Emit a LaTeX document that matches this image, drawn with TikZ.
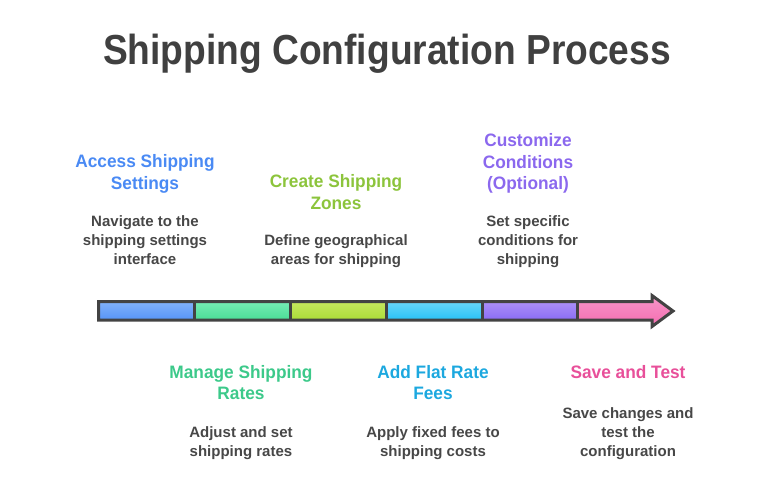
\documentclass[tikz,border=0pt]{standalone}
\usepackage{fontspec}
\setmainfont{Liberation Sans}
\newfontfamily\titlefont{Liberation Sans}[FakeStretch=0.885]
\newfontfamily\labfont{Liberation Sans}[FakeStretch=0.96]
\definecolor{ink}{HTML}{404040}
\definecolor{desc}{HTML}{474747}
\definecolor{outl}{HTML}{434343}
\definecolor{cblue}{HTML}{4A8AF4}
\definecolor{cgreen}{HTML}{8CC43C}
\definecolor{cpurple}{HTML}{8B68EE}
\definecolor{cmint}{HTML}{3CC98A}
\definecolor{ccyan}{HTML}{1CA8DF}
\definecolor{cpink}{HTML}{E8509A}
\newcommand{\ml}[1]{\begin{tabular}[t]{@{}c@{}}#1\end{tabular}}
\begin{document}
\begin{tikzpicture}[x=1pt,y=-1pt,
  lab/.style={inner sep=0pt, anchor=base, font=\labfont\bfseries\fontsize{18}{21.5}\selectfont},
  dsc/.style={inner sep=0pt, anchor=base, text=desc, font=\bfseries\fontsize{15}{19.4}\selectfont}]
\useasboundingbox (0,0) rectangle (760,495);
% title
\node[inner sep=0pt, anchor=base, text=ink, font=\titlefont\bfseries\fontsize{42}{48}\selectfont] (title) at (387,64) {Shipping Configuration Process};
% arrow body
\path[top color={rgb,255:red,249;green,150;blue,201}, bottom color={rgb,255:red,244;green,108;blue,176}]
  (98.5,301.5) -- (652,301.5) -- (652,295.5) -- (673,311) -- (652,326.5) -- (652,320) -- (98.5,320) -- cycle;
\path[top color={rgb,255:red,130;green,178;blue,250}, bottom color={rgb,255:red,86;green,148;blue,247}] (98.5,301.5) rectangle (194,320);
\path[top color={rgb,255:red,118;green,237;blue,180}, bottom color={rgb,255:red,74;green,220;blue,150}] (194,301.5) rectangle (290,320);
\path[top color={rgb,255:red,198;green,232;blue,94}, bottom color={rgb,255:red,170;green,220;blue,56}] (290,301.5) rectangle (386,320);
\path[top color={rgb,255:red,105;green,214;blue,248}, bottom color={rgb,255:red,40;green,194;blue,246}] (386,301.5) rectangle (482,320);
\path[top color={rgb,255:red,172;green,144;blue,248}, bottom color={rgb,255:red,138;green,108;blue,245}] (482,301.5) rectangle (577,320);
\foreach \bx in {194,290,386,482,577} \draw[outl, line width=3pt] (\bx,301.5) -- (\bx,320);
\draw[outl, line width=3pt, line join=miter]
  (98.5,301.5) -- (652,301.5) -- (652,295.5) -- (673,311) -- (652,326.5) -- (652,320) -- (98.5,320) -- cycle;
% top labels
\node[lab, text=cblue] (t1) at (145,167.5) {\ml{Access Shipping\\Settings}};
\node[dsc] (d1) at (145,226) {\ml{Navigate to the\\shipping settings\\interface}};
\node[lab, text=cgreen] (t3) at (336,187.5) {\ml{Create Shipping\\Zones}};
\node[dsc] (d3) at (336,245) {\ml{Define geographical\\areas for shipping}};
\node[lab, text=cpurple] (t5) at (528,146.5) {\ml{Customize\\Conditions\\(Optional)}};
\node[dsc] (d5) at (528,226) {\ml{Set specific\\conditions for\\shipping}};
% bottom labels
\node[lab, text=cmint] (t2) at (241,378) {\ml{Manage Shipping\\Rates}};
\node[dsc] (d2) at (241,437.5) {\ml{Adjust and set\\shipping rates}};
\node[lab, text=ccyan] (t4) at (433,378) {\ml{Add Flat Rate\\Fees}};
\node[dsc] (d4) at (433,437.5) {\ml{Apply fixed fees to\\shipping costs}};
\node[lab, text=cpink] (t6) at (628,378.5) {\ml{Save and Test}};
\node[dsc] (d6) at (628,418) {\ml{Save changes and\\test the\\configuration}};
\end{tikzpicture}
\end{document}
